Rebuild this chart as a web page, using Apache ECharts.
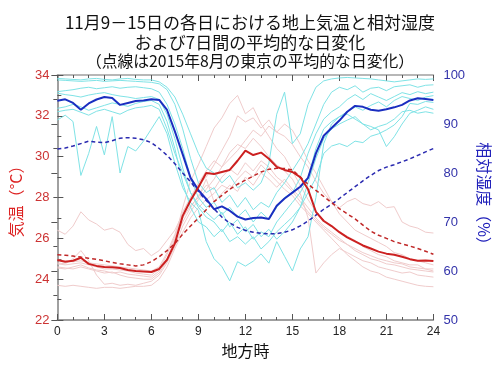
<!DOCTYPE html>
<html><head><meta charset="utf-8">
<script src="https://cdn.jsdelivr.net/npm/echarts@6/dist/echarts.min.js"></script>
<style>html,body{margin:0;padding:0;background:#fff}#c{width:500px;height:365px}</style>
</head><body><div id="c"></div>
<script>
const hours = [0,0.5,1,1.5,2,2.5,3,3.5,4,4.5,5,5.5,6,6.5,7,7.5,8,8.5,9,9.5,10,10.5,11,11.5,12,12.5,13,13.5,14,14.5,15,15.5,16,16.5,17,17.5,18,18.5,19,19.5,20,20.5,21,21.5,22,22.5,23,23.5,24];
const xTicks = [0,3,6,9,12,15,18,21,24];

// daily temperature (°C)
const tempDay1 = [26.4,26.2,26.6,27.3,26.9,26.7,26.4,26.5,26.3,25.7,25.4,25.5,25.15,25.4,25.9,26.4,27.2,28.0,28.6,29.0,29.6,30.3,31.0,32.0,31.7,31.9,31.4,31.8,31.2,31.0,30.6,30.0,29.5,28.8,28.2,27.8,27.5,27.8,27.96,27.7,27.6,27.8,27.5,27.55,26.8,26.6,26.5,26.3,26.26];
const tempDay2 = [24.6,24.55,24.5,24.6,24.5,24.4,24.3,24.35,24.2,24.1,24.05,24.0,24.0,24.3,24.9,26.0,27.5,28.8,29.6,30.5,31.4,31.9,32.6,33.0,32.1,32.4,31.6,31.0,30.4,30.0,29.3,28.6,27.9,27.3,26.9,26.6,26.3,26.1,25.9,25.6,25.4,25.2,25.1,24.9,24.8,24.7,24.7,24.5,24.4];
const tempDay3 = [24.8,24.75,25.0,25.4,24.9,24.2,23.75,23.8,23.7,23.75,23.7,23.8,23.9,24.2,24.8,25.6,26.6,27.3,27.9,28.4,28.9,29.5,29.9,30.3,30.8,31.3,31.0,31.5,31.2,31.6,31.3,30.6,29.8,29.2,28.5,27.8,27.2,26.8,26.4,26.2,26.0,25.8,25.6,25.3,25.2,25.0,24.9,24.8,24.7];
const tempDay4 = [23.7,23.65,23.7,23.65,23.6,23.55,23.6,23.6,23.55,23.6,23.65,23.65,23.7,24.0,24.6,25.5,26.3,27.0,27.5,27.9,28.2,28.6,28.4,28.9,29.3,29.0,29.6,29.2,28.8,28.4,28.1,27.6,27.2,26.8,26.4,26.0,25.6,25.2,24.9,24.6,24.4,24.3,24.1,24.0,23.9,23.8,23.7,23.65,23.63];
const tempDay5 = [24.95,24.9,24.85,24.9,24.8,24.75,24.7,24.65,24.6,24.55,24.5,24.45,24.4,24.6,25.3,26.2,27.3,28.0,28.7,29.3,29.8,29.5,30.2,30.6,30.4,30.9,30.5,30.0,29.6,29.3,28.9,28.2,27.0,24.3,24.8,25.2,25.5,25.3,25.1,24.9,24.8,24.6,24.5,24.4,24.3,24.35,24.2,24.15,24.1];
const tempDay6 = [24.55,24.5,24.6,24.7,24.55,24.45,24.4,24.3,24.35,24.25,24.2,24.15,24.1,24.4,25.0,25.9,26.8,27.5,28.1,28.6,28.4,29.0,29.4,29.1,29.7,29.3,29.8,29.5,29.0,28.7,28.3,27.8,27.3,26.9,26.5,26.2,25.9,25.7,25.5,25.3,25.15,25.0,24.9,24.8,24.75,24.6,24.55,24.5,24.5];
const tempDay7 = [24.75,24.7,24.75,24.8,24.7,24.6,24.5,24.5,24.45,24.4,24.3,24.25,24.2,24.5,25.2,26.1,27.0,27.6,28.0,28.9,27.8,28.2,28.6,28.3,29.0,28.6,29.2,28.9,28.5,28.9,28.4,28.0,27.5,27.0,26.6,26.3,26.0,25.7,25.4,25.2,25.0,24.9,24.75,24.7,24.6,24.5,24.45,24.4,24.35];
const tempMean = [24.94,24.85,24.9,25.05,24.75,24.65,24.6,24.58,24.55,24.45,24.4,24.38,24.35,24.5,24.95,25.75,27.1,27.85,28.5,29.2,29.15,29.25,29.35,29.8,30.3,30.08,30.2,29.9,29.5,29.35,29.25,29.0,28.4,27.3,26.85,26.6,26.3,26.05,25.85,25.65,25.5,25.35,25.25,25.2,25.1,24.98,24.9,24.92,24.89];
const tempAug = [25.19,25.17,25.13,25.08,25.02,24.97,24.9,24.82,24.75,24.7,24.65,24.7,24.86,25.1,25.4,25.75,26.2,26.6,27.0,27.4,27.8,28.1,28.4,28.65,28.85,29.05,29.25,29.38,29.43,29.42,29.35,29.0,28.65,28.35,28.05,27.75,27.45,27.2,26.95,26.65,26.35,26.15,26.0,25.84,25.73,25.62,25.5,25.37,25.22];

// daily relative humidity (%)
const humDay1 = [99.3,99.2,99.1,99.0,99.2,99.3,99.1,99.0,99.2,99.3,99.1,99.0,99.0,98.6,97.5,95.5,92,88,84,81,80,78,79.5,77,78,76.5,78,82,92,96.5,86,88,94,97.5,98.8,99.2,99.4,99.5,99.4,99.3,99.2,99.0,98.8,98.6,98.8,99.0,99.2,99.1,99.2];
const humDay2 = [99.0,98.9,98.8,98.7,98.8,98.9,98.7,98.8,98.9,98.8,98.7,98.6,98.5,98.2,97.0,94,89,83,78,76,77,74,75.5,73,75,72.5,74,73,76,78,80.5,83,86,90,94,96.5,97.5,97.0,97.8,96.5,97.3,97.5,96.8,97.6,97.8,98.0,97.5,97.9,98.0];
const humDay3 = [96.6,96.8,97.0,97.3,97.5,97.2,97.4,97.6,97.3,97.5,97.6,97.4,97.2,96.5,94,90,85,79,75,73,74,71.5,73,71,72.5,70,72,70.5,73,75,76,79,84,88,91,92.5,93.5,95,96,95,96.2,95.5,94.8,95.6,96.4,96.0,96.6,96.2,96.5];
const humDay4 = [96.3,96.0,95.8,95.5,95.9,96.2,96.4,96.0,95.7,95.5,95.2,95.4,95.6,95.0,92,87,81,76,73,71,70,68,70,67.5,69,66.5,68,67,70,72,74,76,79,85,89,90.5,91.5,92.5,93.5,92.8,93.8,94.5,93.5,94.8,95.6,95.2,94.8,95.5,95.8];
const humDay5 = [93.2,93.5,94.0,93.5,92.8,93.3,93.8,94.3,94.0,93.6,94.2,94.6,94.8,94.0,90.5,85,78,73,70,69,67,68.5,66,67,65.5,67,64.5,66,68,69.5,71,73,76,79,84,85.5,86,85.4,86.5,86.2,87.5,88,88.8,89.8,91.5,94.2,94.0,94.6,94.4];
const humDay6 = [92.5,92.8,93.0,92.4,91.8,92.6,93.0,92.5,92.0,92.8,93.3,93.5,93.8,93.0,89,84,80,76,73.5,72,70.5,72,69,70.5,68,69.5,67,68.5,66.5,68,70,73,78,83,87,89,90,90.8,91.5,90,89.5,88.8,85.4,87.4,90.0,92.2,92.8,93.5,93.0];
const humDay7 = [90.8,91.8,90.5,79.5,84,89.5,83.7,91.5,80,85.4,84.5,86.5,89,91.5,88,82,77,74,72.4,66,62.5,60.9,58,61.9,61,62,63.5,61.6,66,63,60,64.5,67,75,86,90,91.5,92,91,90,88.8,89.5,90,91,92.5,92.8,92.2,92.5,92.2];
const humMean = [94.76,95.04,94.3,92.9,94.2,95.0,95.5,95.3,93.9,94.3,94.7,94.8,95.04,94.9,92.86,88.5,83.8,79.0,76.5,74.7,72.6,73.2,72.3,71.1,70.5,70.8,70.9,70.6,73.3,74.8,76.0,77.2,79.0,84.0,87.6,89.2,90.7,92.5,93.7,93.5,92.9,92.7,93.0,93.4,93.9,94.8,95.24,95.1,94.9];
const humAug = [84.9,85.1,85.5,86.0,86.5,86.3,86.2,86.6,87.1,87.2,87.1,86.8,86.2,85.0,83.6,81.9,80.0,78.2,76.2,74.4,72.7,71.0,69.8,68.9,68.3,67.9,67.7,67.6,67.6,67.9,68.4,69.2,70.2,71.4,72.6,73.6,74.8,76.0,77.2,78.4,79.5,80.5,81.2,81.7,82.3,82.9,83.6,84.3,85.0];

const tempDays = [tempDay1,tempDay2,tempDay3,tempDay4,tempDay5,tempDay6,tempDay7];
const humDays = [humDay1,humDay2,humDay3,humDay4,humDay5,humDay6,humDay7];

const pair = arr => arr.map((v,i)=>[hours[i], v]);
const FONT = '"Liberation Sans", Arial, sans-serif';
const JP = '"Noto Sans CJK JP", sans-serif';
const RED = '#cc3333', BLUE = '#3333aa', AXIS = '#808080';

const series = [];
tempDays.forEach(d => series.push({type:'line', yAxisIndex:0, data:pair(d), symbol:'none', silent:true,
  lineStyle:{color:'#f0cccc', width:1}, z:1}));
humDays.forEach(d => series.push({type:'line', yAxisIndex:1, data:pair(d), symbol:'none', silent:true,
  lineStyle:{color:'#7fe3e6', width:1}, z:2}));
series.push({type:'line', yAxisIndex:1, data:pair(humAug), symbol:'none', lineStyle:{color:'#2a2ab0', width:1.5, type:[4,3]}, z:3});
series.push({type:'line', yAxisIndex:0, data:pair(tempAug), symbol:'none', lineStyle:{color:'#c02828', width:1.5, type:[4,3]}, z:3});
series.push({type:'line', yAxisIndex:1, data:pair(humMean), symbol:'none', lineStyle:{color:'#1a2ec0', width:2}, z:4});
series.push({type:'line', yAxisIndex:0, data:pair(tempMean), symbol:'none', lineStyle:{color:'#cc2020', width:2}, z:4});

const axisLine = {show:true, lineStyle:{color:AXIS, width:1.5}};
const chart = echarts.init(document.getElementById('c'), null, {renderer:'canvas'});
chart.setOption({
  animation:false,
  backgroundColor:'#fff',
  title:[
    {text:'11月9－15日の各日における地上気温と相対湿度', left:'center', top:9, textStyle:{fontFamily:JP, fontSize:17, fontWeight:'normal', color:'#111'}},
    {text:'および7日間の平均的な日変化', left:'center', top:29, textStyle:{fontFamily:JP, fontSize:17, fontWeight:'normal', color:'#111'}},
    {text:'（点線は2015年8月の東京の平均的な日変化）', left:'center', top:48.5, textStyle:{fontFamily:JP, fontSize:15.8, fontWeight:'normal', color:'#111'}}
  ],
  grid:{left:52, right:56, top:75, bottom:45},
  xAxis:[
    {type:'value', min:0, max:24, interval:3, position:'bottom',
     axisLine:axisLine, axisTick:{show:true, inside:true, length:6, lineStyle:{color:'#555'}},
     minorTick:{show:true, splitNumber:3, length:3, lineStyle:{color:'#555'}},
     axisLabel:{color:'#222', fontFamily:FONT, fontSize:12, margin:6, formatter:v=>xTicks.includes(v)?String(v):''},
     splitLine:{show:false},
     name:'地方時', nameLocation:'middle', nameGap:20, nameTextStyle:{fontFamily:JP, fontSize:16, color:'#111'}},
    {type:'value', min:0, max:24, interval:3, position:'top',
     axisLine:{show:true, lineStyle:{color:'#a0a0a0', width:1.5}}, axisTick:{show:true, inside:true, length:6, lineStyle:{color:'#555'}},
     minorTick:{show:true, splitNumber:3, length:3, lineStyle:{color:'#555'}},
     axisLabel:{show:false}, splitLine:{show:false}}
  ],
  yAxis:[
    {type:'value', min:22, max:34, interval:2, position:'left',
     axisLine:axisLine, axisTick:{show:true, inside:true, length:6, lineStyle:{color:'#555'}},
     minorTick:{show:true, splitNumber:2, length:4, lineStyle:{color:'#555'}},
     axisLabel:{color:RED, fontFamily:FONT, fontSize:13, margin:8},
     splitLine:{show:false},
     name:'気温（°C）', nameLocation:'middle', nameGap:27, nameRotate:90,
     nameTextStyle:{fontFamily:JP, fontSize:16, color:'#dd2222'}},
    {type:'value', min:50, max:100, interval:10, position:'right',
     axisLine:{show:true, lineStyle:{color:'#a0a0a0', width:1.5}}, axisTick:{show:true, inside:true, length:6, lineStyle:{color:'#555'}},
     minorTick:{show:true, splitNumber:2, length:4, lineStyle:{color:'#555'}},
     axisLabel:{color:BLUE, fontFamily:FONT, fontSize:13, margin:10},
     splitLine:{show:false},
     name:'相対湿度（%）', nameLocation:'middle', nameGap:32, nameRotate:-90,
     nameTextStyle:{fontFamily:JP, fontSize:16, color:'#2222bb'}}
  ],
  series:series
});
</script></body></html>
